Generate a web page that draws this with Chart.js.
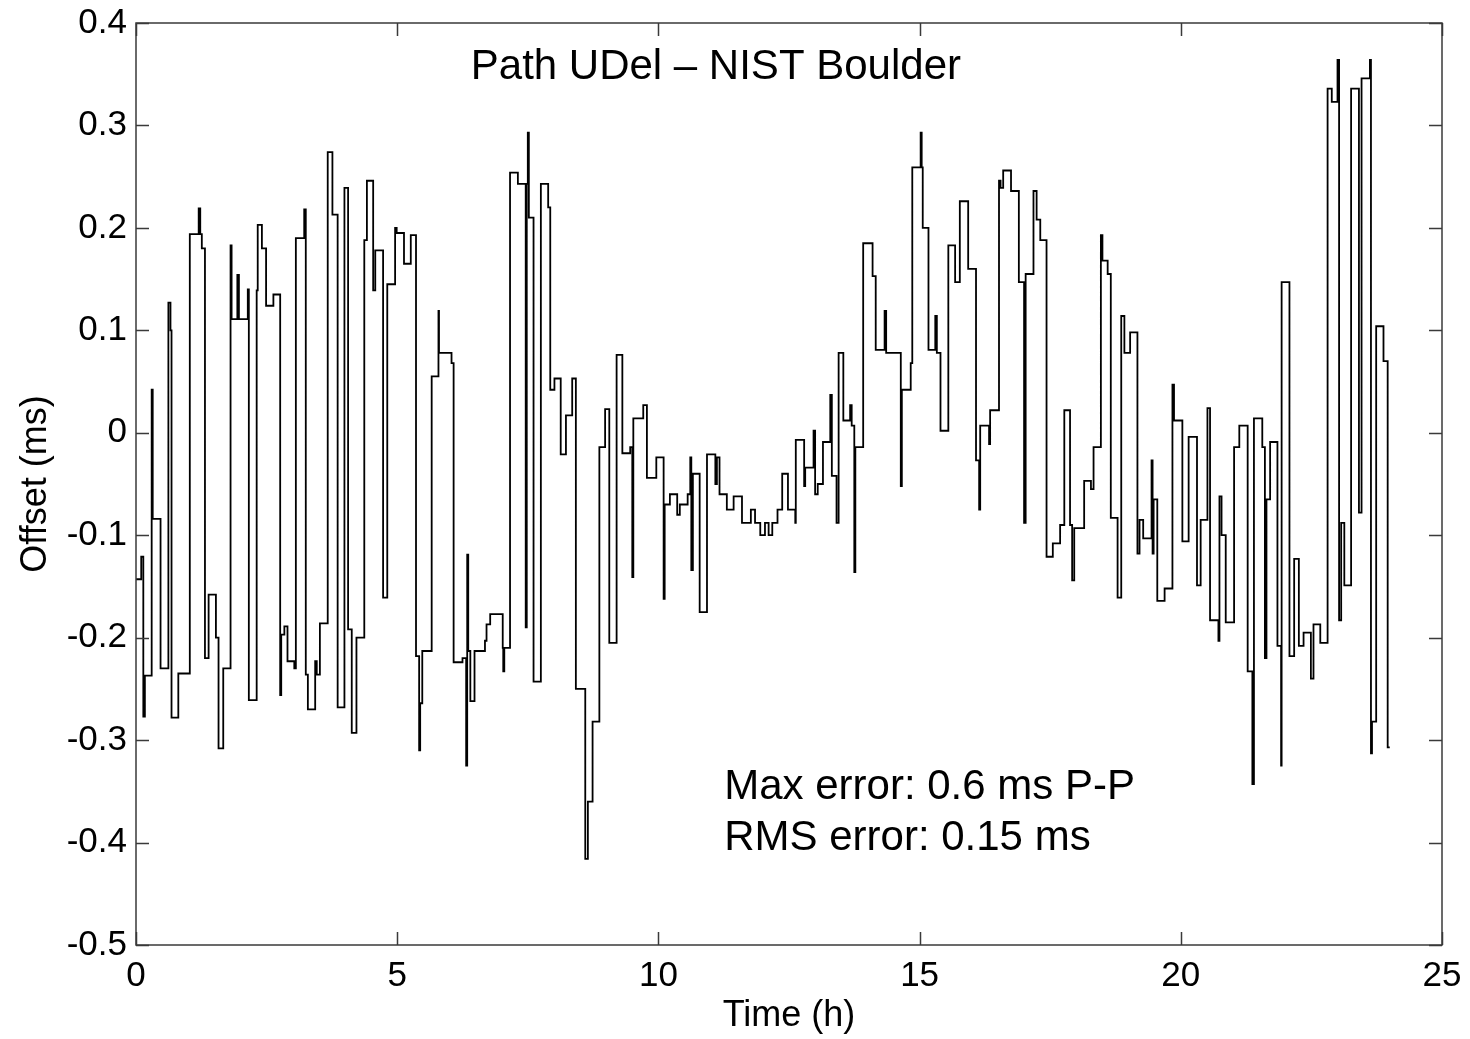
<!DOCTYPE html>
<html>
<head>
<meta charset="utf-8">
<script src="https://cdn.jsdelivr.net/npm/chart.js@4/dist/chart.umd.min.js"></script>
<style>
  html, body { margin: 0; padding: 0; background: #fff; }
  canvas { display: block; }
</style>
</head>
<body>
<canvas id="graph" width="1470" height="1039"></canvas>
<script>
// time of each step (h), the offset holds until the next time
var times = [
  0.00, 0.10, 0.14, 0.17, 0.30, 0.32, 0.47, 0.62, 0.66, 0.68, 0.81,
  1.03, 1.20, 1.23, 1.26, 1.32, 1.39, 1.53, 1.58, 1.67, 1.81, 1.83, 1.94, 1.97,
  2.14, 2.16, 2.31, 2.33, 2.41, 2.49, 2.63, 2.76, 2.78, 2.84, 2.90,
  3.03, 3.06, 3.22, 3.25, 3.29, 3.43, 3.46, 3.52, 3.67, 3.76, 3.86, 3.99,
  4.06, 4.13, 4.22, 4.37, 4.42, 4.54, 4.58, 4.73, 4.81, 4.96, 4.99,
  5.13, 5.26, 5.36, 5.42, 5.44, 5.48, 5.66, 5.79, 5.80,
  6.04, 6.08, 6.25, 6.32, 6.34, 6.36, 6.40, 6.48, 6.68, 6.71, 6.78,
  7.02, 7.03, 7.05, 7.16, 7.31, 7.46, 7.48, 7.50, 7.52, 7.61, 7.75, 7.89, 7.93,
  8.01, 8.13, 8.23, 8.35, 8.42, 8.60, 8.65, 8.74, 8.87, 8.98,
  9.06, 9.20, 9.31, 9.46, 9.50, 9.52, 9.71, 9.78, 9.96,
  10.10, 10.12, 10.22, 10.36, 10.41, 10.56, 10.61, 10.63, 10.66, 10.79, 10.93,
  11.09, 11.12, 11.17, 11.31, 11.44, 11.60, 11.77, 11.85, 11.95,
  12.04, 12.11, 12.18, 12.28, 12.37, 12.48, 12.62, 12.63, 12.79, 12.81, 12.97,
  13.00, 13.05, 13.15, 13.29, 13.32, 13.41, 13.45, 13.54, 13.67, 13.70, 13.75, 13.77, 13.92,
  14.10, 14.16, 14.33, 14.36, 14.64, 14.66, 14.83, 14.86,
  15.02, 15.04, 15.06, 15.17, 15.30, 15.33, 15.40, 15.55, 15.68, 15.77, 15.93,
  16.08, 16.14, 16.16, 16.33, 16.35, 16.52, 16.55, 16.60, 16.75, 16.90,
  17.00, 17.03, 17.18, 17.24, 17.31, 17.43, 17.55, 17.69, 17.77, 17.88, 17.92, 17.96,
  18.15, 18.28, 18.33, 18.47, 18.50, 18.60, 18.66, 18.79, 18.86, 18.92,
  19.03, 19.17, 19.21, 19.28, 19.44, 19.46, 19.48, 19.55, 19.69, 19.84, 19.87,
  20.03, 20.15, 20.31, 20.38, 20.51, 20.56, 20.72, 20.74, 20.78, 20.86,
  21.02, 21.12, 21.28, 21.37, 21.40, 21.56, 21.61, 21.64, 21.71, 21.85, 21.92, 21.93,
  22.08, 22.17, 22.26, 22.35, 22.49, 22.54, 22.67, 22.81, 22.89,
  23.00, 23.03, 23.07, 23.13, 23.26, 23.41, 23.46, 23.62, 23.64, 23.66, 23.74, 23.88, 23.96, 24.00
];

// offset (ms), same order as times
var offsets = [
  -0.143, -0.121, -0.277, -0.237, 0.042, -0.084, -0.23, 0.127, 0.10, -0.278, -0.235,
  0.194, 0.219, 0.194, 0.18, -0.22, -0.158, -0.20, -0.308, -0.23, 0.183, 0.111, 0.154, 0.111,
  0.14, -0.261, 0.139, 0.203, 0.18, 0.124, 0.135, -0.256, -0.197, -0.189, -0.223,
  -0.23, 0.19, 0.218, -0.236, -0.27, -0.223, -0.236, -0.186, 0.274, 0.213, -0.268, 0.239,
  -0.192, -0.293, -0.2, 0.188, 0.246, 0.139, 0.178, -0.161, 0.145, 0.2, 0.195,
  0.165, 0.193, -0.218, -0.31, -0.264, -0.213, 0.055, 0.119, 0.078,
  0.068, -0.224, -0.22, -0.325, -0.119, -0.213, -0.262, -0.213, -0.203, -0.187, -0.177,
  -0.21, -0.233, -0.21, 0.254, 0.243, -0.19, 0.243, 0.293, 0.21, -0.243, 0.243, 0.22, 0.042,
  0.053, -0.021, 0.017, 0.053, -0.25, -0.416, -0.36, -0.282, -0.014, 0.023,
  -0.205, 0.076, -0.02, -0.014, -0.141, 0.014, 0.027, -0.044, -0.024,
  -0.162, -0.07, -0.06, -0.08, -0.07, -0.06, -0.024, -0.134, -0.04, -0.175, -0.021,
  -0.05, -0.024, -0.06, -0.075, -0.062, -0.088, -0.075, -0.088, -0.1,
  -0.088, -0.1, -0.088, -0.075, -0.04, -0.075, -0.088, -0.007, -0.052, -0.034, 0.002,
  -0.06, -0.05, -0.009, 0.037, -0.042, -0.088, 0.078, 0.012, 0.027, 0.007, -0.136, -0.014, 0.185,
  0.153, 0.081, 0.119, 0.078, -0.052, 0.042, 0.068, 0.259,
  0.293, 0.259, 0.2, 0.081, 0.114, 0.078, 0.002, 0.183, 0.147, 0.226, 0.16,
  -0.027, -0.075, 0.007, -0.011, 0.022, 0.246, 0.239, 0.256, 0.236, 0.147,
  -0.088, 0.155, 0.236, 0.208, 0.188, -0.121, -0.108, -0.09, 0.022, -0.09, -0.144, -0.093,
  -0.047, -0.055, -0.014, 0.193, 0.168, 0.155, -0.083, -0.161, 0.114, 0.078,
  0.098, -0.118, -0.085, -0.103, -0.027, -0.118, -0.065, -0.164, -0.152, 0.047, 0.012,
  -0.106, -0.004, -0.149, -0.085, 0.024, -0.183, -0.203, -0.062, -0.1, -0.185,
  -0.014, 0.007, -0.233, -0.343, 0.014, -0.014, -0.22, -0.065, -0.009, -0.208, -0.325, 0.147,
  -0.218, -0.123, -0.208, -0.195, -0.24, -0.187, -0.205, 0.336, 0.323,
  0.364, -0.183, -0.088, -0.149, 0.336, -0.078, 0.346, 0.364, -0.313, -0.282, 0.104, 0.07, -0.307, -0.307
];

var titleText = 'Path UDel \u2013 NIST Boulder';
var noteLines = ['Max error: 0.6 ms P-P', 'RMS error: 0.15 ms'];

var points = [];
for (var i = 0; i < times.length; i++) {
  points.push({ x: times[i], y: offsets[i] });
}

var fontName = '"Liberation Sans", Arial, sans-serif';

// box around the plot with inward ticks on all four sides, plus the texts
var framePlugin = {
  id: 'frame',
  afterDraw: function(chart) {
    var ctx = chart.ctx;
    var a = chart.chartArea;
    var xs = chart.scales.x, ys = chart.scales.y;
    var len = 13;
    ctx.save();
    ctx.strokeStyle = '#3a3a3a';
    ctx.lineWidth = 1.5;
    ctx.beginPath();
    xs.ticks.forEach(function(t) {
      var px = Math.round(xs.getPixelForValue(t.value)) + 0.5;
      ctx.moveTo(px, a.bottom); ctx.lineTo(px, a.bottom - len);
      ctx.moveTo(px, a.top); ctx.lineTo(px, a.top + len);
    });
    ys.ticks.forEach(function(t) {
      var py = Math.round(ys.getPixelForValue(t.value)) + 0.5;
      ctx.moveTo(a.left, py); ctx.lineTo(a.left + len, py);
      ctx.moveTo(a.right, py); ctx.lineTo(a.right - len, py);
    });
    ctx.stroke();
    ctx.strokeRect(a.left, a.top, a.right - a.left, a.bottom - a.top);

    ctx.fillStyle = '#000';
    ctx.font = '42px ' + fontName;
    ctx.textBaseline = 'middle';
    ctx.textAlign = 'center';
    ctx.fillText(titleText, xs.getPixelForValue(11.1), ys.getPixelForValue(0.357));
    ctx.textAlign = 'left';
    ctx.fillText(noteLines[0], xs.getPixelForValue(11.26), ys.getPixelForValue(-0.346));
    ctx.fillText(noteLines[1], xs.getPixelForValue(11.26), ys.getPixelForValue(-0.396));
    ctx.restore();
  }
};

var ctx = document.getElementById('graph').getContext('2d');
var offsetChart = new Chart(ctx, {
  type: 'line',
  data: {
    datasets: [{
      label: 'Offset',
      data: points,
      borderColor: '#000',
      borderWidth: 1.8,
      stepped: true,
      pointRadius: 0,
      fill: false
    }]
  },
  options: {
    responsive: false,
    animation: false,
    devicePixelRatio: 1,
    layout: { padding: { top: 23, right: 28, left: 0, bottom: 0 } },
    plugins: { legend: { display: false }, tooltip: { enabled: false } },
    scales: {
      x: {
        type: 'linear',
        min: 0, max: 25,
        ticks: {
          stepSize: 5,
          color: '#000',
          padding: 10,
          maxRotation: 0,
          font: { family: fontName, size: 35 }
        },
        grid: { display: false, drawTicks: false },
        border: { display: false },
        title: {
          display: true,
          text: 'Time (h)',
          color: '#000',
          padding: { top: 0, bottom: 1 },
          font: { family: fontName, size: 36 }
        },
        afterFit: function(s) {
          s.height = 94;
          s.paddingLeft = 0;
          s.paddingRight = 0;
        }
      },
      y: {
        type: 'linear',
        min: -0.5, max: 0.4,
        ticks: {
          stepSize: 0.1,
          color: '#000',
          padding: 9,
          font: { family: fontName, size: 35 },
          callback: function(v) {
            if (Math.abs(v) < 1e-9) return '0';
            return String(parseFloat(v.toFixed(1)));
          }
        },
        grid: { display: false, drawTicks: false },
        border: { display: false },
        title: {
          display: true,
          text: 'Offset (ms)',
          color: '#000',
          padding: { top: 14, bottom: 0 },
          font: { family: fontName, size: 36 }
        },
        afterFit: function(s) {
          s.width = 136;
          s.paddingTop = 0;
          s.paddingBottom = 0;
        }
      }
    }
  },
  plugins: [framePlugin]
});
</script>
</body>
</html>
